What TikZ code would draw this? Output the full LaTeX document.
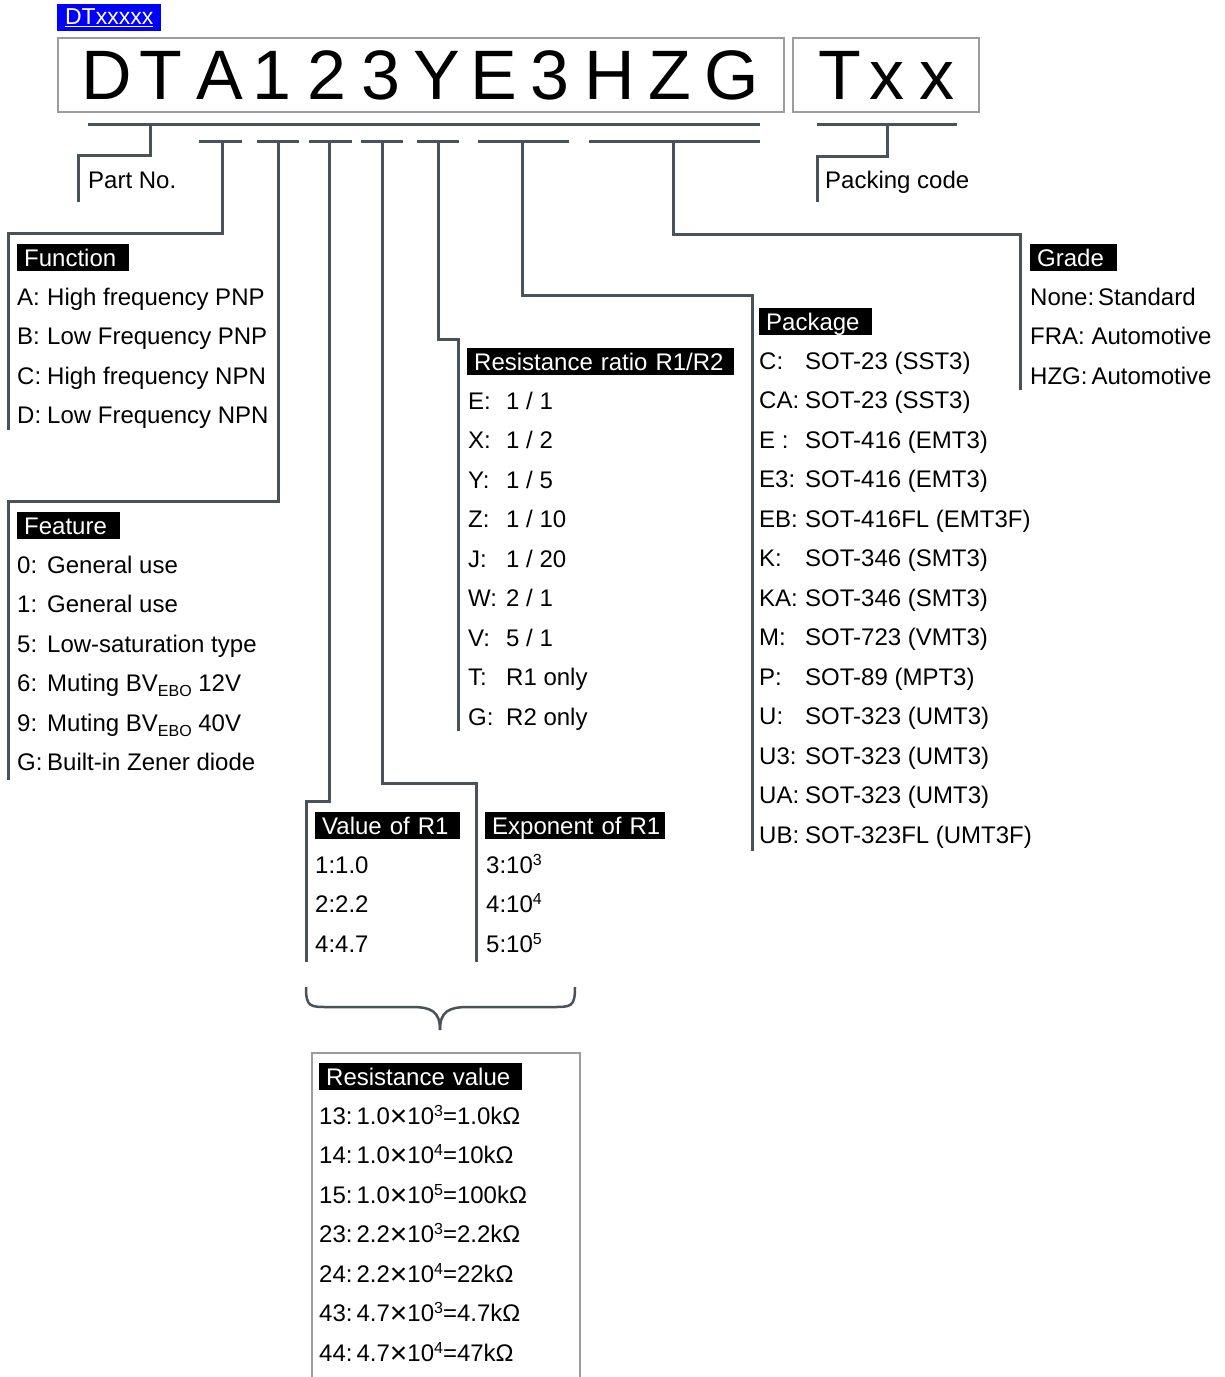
\documentclass[tikz,border=0pt]{standalone}
\usepackage{fontspec}
\setmainfont{Liberation Sans}
\definecolor{linec}{HTML}{4A5259}
\definecolor{framec}{HTML}{9C9C9C}
\definecolor{tagblue}{HTML}{0000FF}
\newcommand{\supx}[1]{\raisebox{8pt}{\fontsize{16}{16}\selectfont #1}}
\newcommand{\subx}[1]{\raisebox{-5pt}{\fontsize{16}{16}\selectfont #1}}
\newcommand{\tms}{\raisebox{-2pt}{\fontsize{30}{30}\selectfont ×}}
\begin{document}
\begin{tikzpicture}[x=1pt,y=-1pt,
  conn/.style={draw=linec, line width=3pt},
  frame/.style={draw=framec, line width=1.5pt},
  hdr/.style={fill=black, text=white, anchor=north west, inner xsep=7pt, inner ysep=0pt,
    minimum height=27pt, text height=17.2pt, text depth=0pt, align=left,
    font=\fontsize{24}{24}\selectfont},
  itm/.style={anchor=base west, inner sep=0pt, font=\fontsize{24}{24}\selectfont},
  big/.style={anchor=base, inner sep=0pt, font=\fontsize{70}{70}\selectfont}]
\useasboundingbox (0,0) rectangle (1225,1377);

% top tag
\node[fill=tagblue, text=white, anchor=north west, minimum width=104pt, minimum height=27pt,
  inner sep=0pt, font=\fontsize{23}{23}\selectfont] (tag) at (57,4) {\underline{DTxxxxx}};

% code boxes
\node[frame, anchor=north west, minimum width=726pt, minimum height=74pt, inner sep=0pt] (codebox) at (57,37) {};
\node[frame, anchor=north west, minimum width=186pt, minimum height=74pt, inner sep=0pt] (packbox) at (792,37) {};
\foreach \c/\x [count=\i] in {D/107,T/161,A/220,1/272,2/327,3/381,Y/437,E/494,3/550,H/610,Z/670,G/732}{
  \node[big] (ch\i) at (\x,99.5) {\c};
}
\node[big] (pT) at (840,99.5) {T};
\node[big] (px1) at (887,99.5) {x};
\node[big] (px2) at (937,99.5) {x};

% underline bars
\coordinate (barL) at (88,124);
\coordinate (barR) at (760,124);
\draw[conn] (barL) -- (barR);
\coordinate (pbarL) at (817,124);
\coordinate (pbarR) at (957,124);
\draw[conn] (pbarL) -- (pbarR);
\foreach \a/\b in {199/242,257/299,309/352,361/403,417/459,478/569,589/760}{
  \draw[conn] (\a,141) -- (\b,141);
}

% stems
\coordinate (sPart) at (150,124);
\coordinate (sFunc) at (222,141);
\coordinate (sFeat) at (278,141);
\coordinate (sVal) at (329,141);
\coordinate (sExp) at (382,141);
\coordinate (sRat) at (438,141);
\coordinate (sPkg) at (522,141);
\coordinate (sGrd) at (673,141);
\coordinate (sPack) at (887,124);

\coordinate (ePart) at (78,202);
\coordinate (eFunc) at (8,430);
\coordinate (eFeat) at (8,780);
\coordinate (eVal) at (306,962);
\coordinate (eExp) at (476,962);
\coordinate (eRat) at (458,731);
\coordinate (ePkg) at (752,851);
\coordinate (eGrd) at (1020,390);
\coordinate (ePack) at (817,202);

\draw[conn] (sPart) -- (150,155) -- (78,155) -- (ePart);
\draw[conn] (sFunc) -- (222,233) -- (8,233) -- (eFunc);
\draw[conn] (sFeat) -- (278,501) -- (8,501) -- (eFeat);
\draw[conn] (sVal) -- (329,801) -- (306,801) -- (eVal);
\draw[conn] (sExp) -- (382,783) -- (476,783) -- (eExp);
\draw[conn] (sRat) -- (438,339) -- (458,339) -- (eRat);
\draw[conn] (sPkg) -- (522,295) -- (752,295) -- (ePkg);
\draw[conn] (sGrd) -- (673,234) -- (1020,234) -- (eGrd);
\draw[conn] (sPack) -- (887,156) -- (817,156) -- (ePack);

\node[itm] (partno) at (88,188) {Part No.};
\node[itm] (packing) at (825,188) {Packing code};

% Function
\node[hdr, text width=98pt] (hFunc) at (17,244) {Function};
\foreach \l/\v [count=\i from 0] in {A:/High frequency PNP,B:/Low Frequency PNP,C:/High frequency NPN,D:/Low Frequency NPN}{
  \node[itm] (func\i) at (17,305+39.5*\i) {\makebox[30pt][l]{\l}\v};
}

% Feature
\node[hdr, text width=89pt] (hFeat) at (17,512) {Feature};
\node[itm] (feat0) at (17,573) {\makebox[30pt][l]{0:}General use};
\node[itm] (feat1) at (17,612.5) {\makebox[30pt][l]{1:}General use};
\node[itm] (feat2) at (17,652) {\makebox[30pt][l]{5:}Low-saturation type};
\node[itm] (feat3) at (17,691.5) {\makebox[30pt][l]{6:}Muting BV\subx{EBO} 12V};
\node[itm] (feat4) at (17,731) {\makebox[30pt][l]{9:}Muting BV\subx{EBO} 40V};
\node[itm] (feat5) at (17,770.5) {\makebox[30pt][l]{G:}Built-in Zener diode};

% Resistance ratio
\node[hdr, text width=253pt] (hRat) at (467,348) {Resistance ratio R1/R2};
\foreach \l/\v [count=\i from 0] in {E:/{1 / 1},X:/{1 / 2},Y:/{1 / 5},Z:/{1 / 10},J:/{1 / 20},W:/{2 / 1},V:/{5 / 1},T:/{R1 only},G:/{R2 only}}{
  \node[itm] (rat\i) at (468,409+39.5*\i) {\makebox[38pt][l]{\l}\v};
}

% Package
\node[hdr, text width=99pt] (hPkg) at (759,308) {Package};
\foreach \l/\v [count=\i from 0] in {C:/SOT-23 (SST3),CA:/SOT-23 (SST3),E :/SOT-416 (EMT3),E3:/SOT-416 (EMT3),EB:/SOT-416FL (EMT3F),K:/SOT-346 (SMT3),KA:/SOT-346 (SMT3),M:/SOT-723 (VMT3),P:/SOT-89 (MPT3),U:/SOT-323 (UMT3),U3:/SOT-323 (UMT3),UA:/SOT-323 (UMT3),UB:/SOT-323FL (UMT3F)}{
  \node[itm] (pkg\i) at (759,369+39.5*\i) {\makebox[46pt][l]{\l}\v};
}

% Grade
\node[hdr, text width=73pt] (hGrd) at (1030,244) {Grade};
\node[itm] (grd0) at (1030,305) {None:\hspace{4pt}Standard};
\node[itm] (grd1) at (1030,344.5) {FRA: Automotive};
\node[itm] (grd2) at (1030,384) {HZG:\hspace{4pt}Automotive};

% Value of R1
\node[hdr, text width=131pt] (hVal) at (315,812) {Value of R1};
\node[itm] (val0) at (315,873) {1:1.0};
\node[itm] (val1) at (315,912.5) {2:2.2};
\node[itm] (val2) at (315,952) {4:4.7};

% Exponent of R1
\node[hdr, text width=166pt] (hExp) at (485,812) {\mbox{Exponent of R1}};
\node[itm] (exp0) at (486,873) {3:10\supx{3}};
\node[itm] (exp1) at (486,912.5) {4:10\supx{4}};
\node[itm] (exp2) at (486,952) {5:10\supx{5}};

% brace
\coordinate (brL) at (306,987);
\coordinate (brR) at (575,987);
\coordinate (brTip) at (440,1030);
\draw[draw=linec, line width=2.5pt] (brL) .. controls (306,1007) and (310,1007) .. (328,1007)
  -- (412,1007) .. controls (432,1007) and (440,1012) .. (brTip);
\draw[draw=linec, line width=2.5pt] (brR) .. controls (575,1007) and (571,1007) .. (553,1007)
  -- (468,1007) .. controls (448,1007) and (440,1012) .. (brTip);

% Resistance value box
\coordinate (rvBL) at (312,1380);
\coordinate (rvBR) at (580,1380);
\draw[frame] (rvBL) -- (312,1053) -- (580,1053) -- (rvBR);
\node[hdr, text width=189pt] (hRv) at (319,1063) {Resistance value};
\foreach \v [count=\i from 0] in {13:\hspace{4pt}1.0\tms10\supx{3}=1.0kΩ,14:\hspace{4pt}1.0\tms10\supx{4}=10kΩ,15:\hspace{4pt}1.0\tms10\supx{5}=100kΩ,23:\hspace{4pt}2.2\tms10\supx{3}=2.2kΩ,24:\hspace{4pt}2.2\tms10\supx{4}=22kΩ,43:\hspace{4pt}4.7\tms10\supx{3}=4.7kΩ,44:\hspace{4pt}4.7\tms10\supx{4}=47kΩ}{
  \node[itm] (rv\i) at (319,1124+39.5*\i) {\v};
}
\end{tikzpicture}
\end{document}
